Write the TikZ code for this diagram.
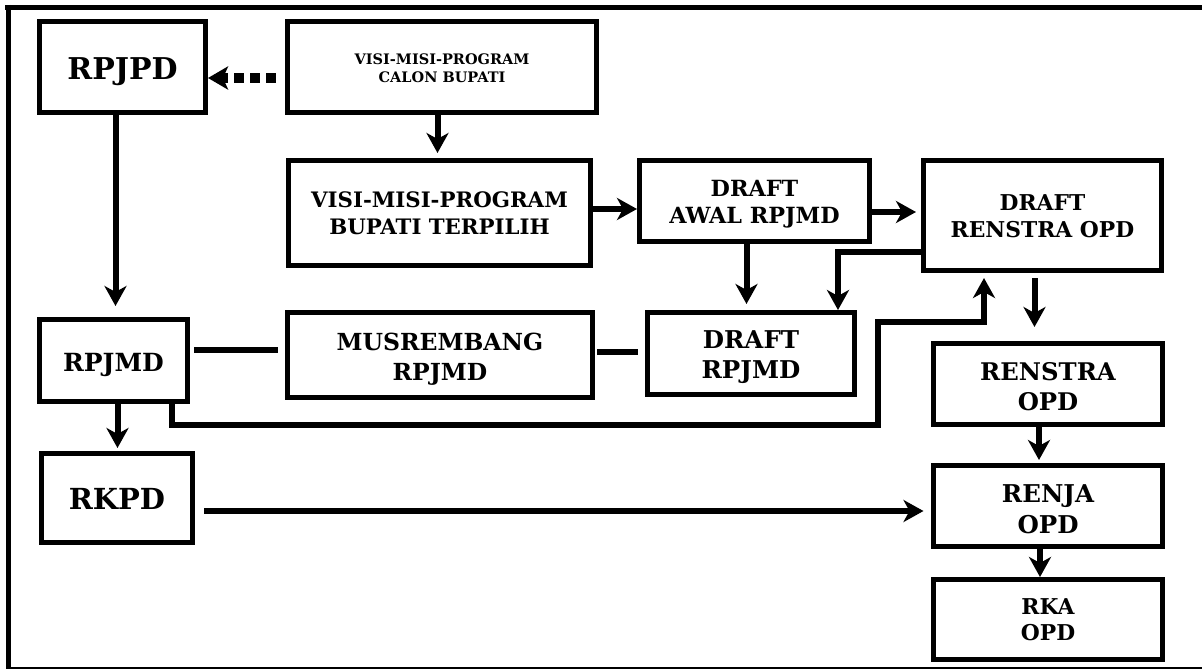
\documentclass[tikz,border=0pt]{standalone}
\usepackage{fontspec}
\setmainfont{DejaVu Serif}
\usetikzlibrary{arrows.meta,calc}
\newcommand\fs[2]{\fontsize{#1}{#2}\selectfont}
\tikzset{
  box/.style={draw, line width=5pt, inner sep=0pt},
  lab/.style={align=center, inner sep=0pt},
  arr/.style={line width=6pt, -{Stealth[length=20pt,width=22pt,inset=6pt]}},
  dotarr/.style={line width=9pt, dash pattern=on 9.5pt off 6.5pt, -{Stealth[length=20pt,width=23pt,inset=5pt]}},
  ln/.style={line width=6pt},
  frame/.style={line width=#1},
}
\begin{document}
\begin{tikzpicture}[x=1pt,y=-1pt]
\useasboundingbox (0,0) rectangle (1202,669);
% frame
\draw[frame=5pt] (5,7.5) -- (1202,7.5);
\draw[frame=5pt] (8.5,5) -- (8.5,668);
\draw[frame=1.5pt] (6,668) -- (1202,668);
% nodes
\node[box, minimum width=166pt, minimum height=91pt, label={[lab, yshift=-4.5pt, font=\bfseries\fs{30}{36}]center:RPJPD}] (rpjpd) at (122.5,67) {};
\node[box, minimum width=309pt, minimum height=91pt, label={[lab, yshift=-1pt, font=\bfseries\fs{14.5}{18.5}]center:{VISI-MISI-PROGRAM\\CALON BUPATI}}] (calon) at (442,67) {};
\node[box, minimum width=302pt, minimum height=105pt, label={[lab, yshift=-0.5pt, font=\bfseries\fs{21.3}{27}]center:{VISI-MISI-PROGRAM\\BUPATI TERPILIH}}] (terpilih) at (439.5,213) {};
\node[box, minimum width=230pt, minimum height=81pt, label={[lab, yshift=-3pt, font=\bfseries\fs{22.3}{27}]center:{DRAFT\\AWAL RPJMD}}] (draftawal) at (754.5,201) {};
\node[box, minimum width=238pt, minimum height=110pt, label={[lab, yshift=-1pt, font=\bfseries\fs{21.8}{27}]center:{DRAFT\\RENSTRA OPD}}] (draftrenstra) at (1042.5,215.5) {};
\node[box, minimum width=148pt, minimum height=82pt, label={[lab, yshift=-4.5pt, font=\bfseries\fs{25}{30}]center:RPJMD}] (rpjmd) at (113.5,360.5) {};
\node[box, minimum width=305pt, minimum height=85pt, label={[lab, yshift=-4pt, font=\bfseries\fs{23.5}{30}]center:{MUSREMBANG\\RPJMD}}] (musrembang) at (440,355) {};
\node[box, minimum width=207pt, minimum height=82pt, label={[lab, yshift=-4pt, font=\bfseries\fs{24.5}{30}]center:{DRAFT\\RPJMD}}] (draftrpjmd) at (751,353.5) {};
\node[box, minimum width=229pt, minimum height=81pt, label={[lab, yshift=-3pt, font=\bfseries\fs{24.3}{30}]center:{RENSTRA\\OPD}}] (renstra) at (1048,384) {};
\node[box, minimum width=229pt, minimum height=81pt, label={[lab, yshift=-3.5pt, font=\bfseries\fs{24.5}{31}]center:{RENJA\\OPD}}] (renja) at (1048,506) {};
\node[box, minimum width=229pt, minimum height=80pt, label={[lab, yshift=0pt, font=\bfseries\fs{21.8}{26}]center:{RKA\\OPD}}] (rka) at (1048,619.5) {};
\node[box, minimum width=151pt, minimum height=89pt, label={[lab, yshift=-0.5pt, font=\bfseries\fs{29}{35}]center:RKPD}] (rkpd) at (117,498) {};
% connectors
\draw[dotarr, shorten <=9.5pt] ([yshift=-11pt]calon.west) -- ([yshift=-11pt]rpjpd.east);
\draw[arr, shorten >=5pt] ([xshift=-4.5pt]calon.south) -- ([xshift=-2pt]terpilih.north);
\draw[arr] ([yshift=4pt]terpilih.east) -- ([yshift=-8pt]draftawal.west);
\draw[arr, shorten >=5pt] ([yshift=-11pt]draftawal.east) -- ([yshift=3.5pt]draftrenstra.west);
\draw[arr, shorten >=6pt] ([xshift=-8pt]draftawal.south) -- ([xshift=-4.5pt]draftrpjmd.north);
\draw[arr] ([yshift=-36.5pt]draftrenstra.west) -| ([xshift=87pt]draftrpjmd.north);
\draw[arr, shorten >=5pt] ([xshift=58pt]rpjmd.south) -- ++(0,21) -- ++(706,0) -- ++(0,-103) -| ([xshift=-58.5pt]draftrenstra.south);
\draw[arr, shorten <=5pt, shorten >=14pt] ([xshift=-8pt]draftrenstra.south) -- ([xshift=-8pt]draftrenstra.south |- renstra.north);
\draw[arr, shorten >=3pt] ([xshift=-9pt]renstra.south) -- ([xshift=-9pt]renstra.south |- renja.north);
\draw[arr] ([xshift=-8pt]renja.south) -- ([xshift=-8pt]renja.south |- rka.north);
\draw[arr, shorten >=11pt] ([xshift=-7pt]rpjpd.south) -- ([xshift=-7pt]rpjpd.south |- rpjmd.north);
\draw[arr, shorten >=3pt] ([xshift=4pt]rpjmd.south) -- ([xshift=4pt]rpjmd.south |- rkpd.north);
\draw[arr, shorten <=9pt, shorten >=7.5pt] ([yshift=-13pt]rkpd.east) -- ([yshift=-13pt]rkpd.east -| renja.west);
\draw[ln, shorten <=4pt, shorten >=7pt] ([yshift=10.5pt]rpjmd.east) -- ([yshift=10.5pt]rpjmd.east -| musrembang.west);
\draw[ln, shorten <=2pt, shorten >=7pt] ([yshift=3.3pt]musrembang.east) -- ([yshift=3.3pt]musrembang.east -| draftrpjmd.west);
\end{tikzpicture}
\end{document}
